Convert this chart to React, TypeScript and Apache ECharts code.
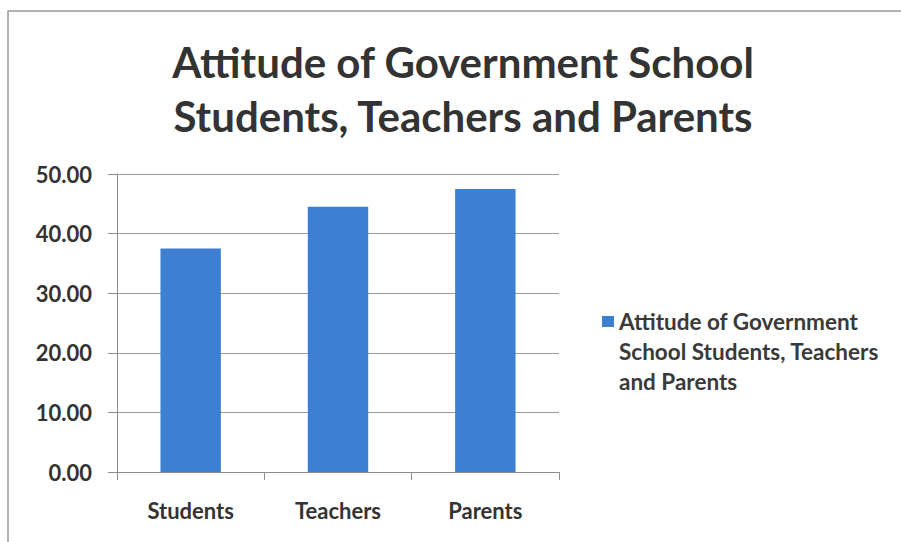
import React, { useEffect, useRef } from "react";
import * as echarts from "echarts";

const categories = ["Students", "Teachers", "Parents"];
const values = [37.5, 44.5, 47.5];
const seriesName = "Attitude of Government School Students, Teachers and Parents";
const titleLines = ["Attitude of Government School", "Students, Teachers and Parents"];
const legendLines = ["Attitude of Government", "School Students, Teachers", "and Parents"];

const FONT = "Lato, 'Open Sans', sans-serif";

export default function App() {
  const ref = useRef<HTMLDivElement>(null);
  useEffect(() => {
    const chart = echarts.init(ref.current!, undefined, { renderer: "svg" });
    chart.setOption({
      animation: false,
      backgroundColor: "#ffffff",
      title: {
        text: titleLines.join("\n"),
        left: 458,
        top: 30,
        textAlign: "center",
        textStyle: {
          fontFamily: FONT,
          fontSize: 42,
          fontWeight: "bold",
          color: "#333333",
          lineHeight: 54,
        },
      },
      legend: {
        show: true,
        data: [seriesName],
        left: 602,
        top: 306,
        padding: 0,
        orient: "vertical",
        // square at the top of a tall icon box, so it sits beside the first text line
        icon: "path://M0,0 H12 V11 H0 Z M0,70 L0.01,70 L0,70.01 Z",
        itemWidth: 12,
        itemHeight: 70,
        itemGap: 6,
        formatter: () => legendLines.join("\n"),
        textStyle: {
          fontFamily: FONT,
          fontSize: 22.5,
          fontWeight: "bold",
          color: "#3a3a3a",
          lineHeight: 30,
        },
      },
      grid: { left: 117, top: 174, width: 442, height: 298 },
      xAxis: {
        type: "category",
        data: categories,
        axisLine: { lineStyle: { color: "#8c8c8c", width: 1 } },
        axisTick: { show: true, length: 8, alignWithLabel: false, lineStyle: { color: "#8c8c8c" } },
        axisLabel: {
          fontFamily: FONT,
          fontSize: 22,
          fontWeight: "bold",
          color: "#333333",
          margin: 27,
        },
      },
      yAxis: {
        type: "value",
        min: 0,
        max: 50,
        interval: 10,
        axisLine: { show: true, lineStyle: { color: "#8c8c8c", width: 1 } },
        axisTick: { show: true, length: 9, lineStyle: { color: "#8c8c8c" } },
        splitLine: { show: true, lineStyle: { color: "#9a9a9a", width: 1 } },
        axisLabel: {
          formatter: (v: number) => v.toFixed(2),
          fontFamily: FONT,
          fontSize: 22,
          fontWeight: "bold",
          color: "#333333",
          margin: 25,
        },
      },
      series: [
        {
          name: seriesName,
          type: "bar",
          data: values,
          barWidth: "41%",
          itemStyle: { color: "#3d7fd0" },
        },
      ],
      graphic: [
        {
          type: "rect",
          shape: { x: 8, y: 11, width: 1200, height: 800 },
          style: { fill: "none", stroke: "#9a9a9a", lineWidth: 1.5 },
          silent: true,
        },
      ],
    });
    return () => chart.dispose();
  }, []);
  return (
    <div
      ref={ref}
      style={{ position: "fixed", left: 0, top: 0, width: 901, height: 542 }}
    />
  );
}
